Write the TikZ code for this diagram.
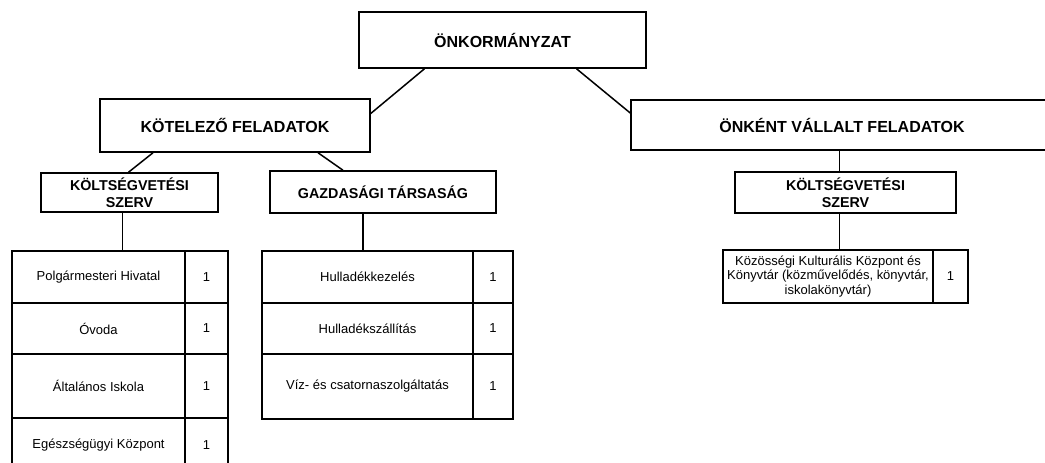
\documentclass[tikz,border=0pt]{standalone}
\usepackage{fontspec}
\setmainfont{Liberation Sans}
\usetikzlibrary{calc}

\begin{document}
\begin{tikzpicture}
  [x=1pt,y=-1pt,line width=1.5pt,
  box/.style={draw,inner sep=0pt,align=center,
    font=\bfseries\fontsize{14.3}{17}\selectfont},
  big/.style={box,font=\bfseries\fontsize{16}{19}\selectfont},
  cell/.style={draw,inner sep=0pt,align=center,
    font=\fontsize{13}{14.5}\selectfont}]
  \useasboundingbox (0,0) rectangle (1045,463);
  % felső szintek
  \node[big,minimum width=287pt,minimum height=56pt] (O) at (502.5,40) {ÖNKORMÁNYZAT};
  \node[big,minimum width=270pt,minimum height=53pt] (K) at (235,125.5) {KÖTELEZŐ FELADATOK};
  \node[big,minimum width=422pt,minimum height=50pt] (V) at (842,125) {ÖNKÉNT VÁLLALT FELADATOK};
  \node[box,minimum width=177pt,minimum height=39pt] (KS) at (129.5,192.5) {KÖLTSÉGVETÉSI\\SZERV};
  \node[box,minimum width=226pt,minimum height=42pt] (G) at (383,192) {GAZDASÁGI TÁRSASÁG};
  \node[box,minimum width=221pt,minimum height=41pt] (VS) at (845.5,192.5) {KÖLTSÉGVETÉSI\\SZERV};
  % táblák
  \foreach \n/\y/\h/\t in {1/277/52/Polgármesteri Hivatal,2/328.5/51/Óvoda,
    3/386/64/Általános Iskola,4/445/54/Egészségügyi Központ}{
    \node[cell,minimum width=173pt,minimum height=\h pt] (L\n) at (98.5,\y) {\t};
    \node[cell,minimum width=43pt,minimum height=\h pt] (Ln\n) at (206.5,\y) {1};
  }
  \foreach \n/\y/\h/\t in {1/277/52/Hulladékkezelés,2/328.5/51/Hulladékszállítás,
    3/386.5/65/Víz- és csatornaszolgáltatás}{
    \node[cell,minimum width=211pt,minimum height=\h pt] (M\n) at (367.5,\y) {\t};
    \node[cell,minimum width=40pt,minimum height=\h pt] (Mn\n) at (493,\y) {1};
  }
  \node[cell,minimum width=210pt,minimum height=53pt] (R1) at (828,276.5)
  {Közösségi Kulturális Központ és\\Könyvtár (közművelődés, könyvtár,\\iskolakönyvtár)};
  \node[cell,minimum width=35pt,minimum height=53pt] (Rn1) at (950.5,276.5) {1};
  % vonalak
  \draw ([xshift=-78pt]O.south) -- ([yshift=12pt]K.east);
  \draw ([xshift=74pt]O.south) -- ([yshift=12pt]V.west);
  \draw ([xshift=-82pt]K.south) -- ([xshift=-1pt]KS.north);
  \draw ([xshift=83pt]K.south) -- ([xshift=-40pt]G.north);
  \draw ([xshift=-6pt]VS.north) -- ([xshift=-6pt]VS.north |- V.south);
  \draw ([xshift=-7pt]KS.south) -- ([xshift=-7pt]KS.south |- L1.north);
  \draw ([xshift=-20pt]G.south) -- ([xshift=-20pt]G.south |- M1.north);
  \draw ([xshift=-6pt]VS.south) -- ([xshift=-6pt]VS.south |- R1.north);
\end{tikzpicture}
\end{document}
